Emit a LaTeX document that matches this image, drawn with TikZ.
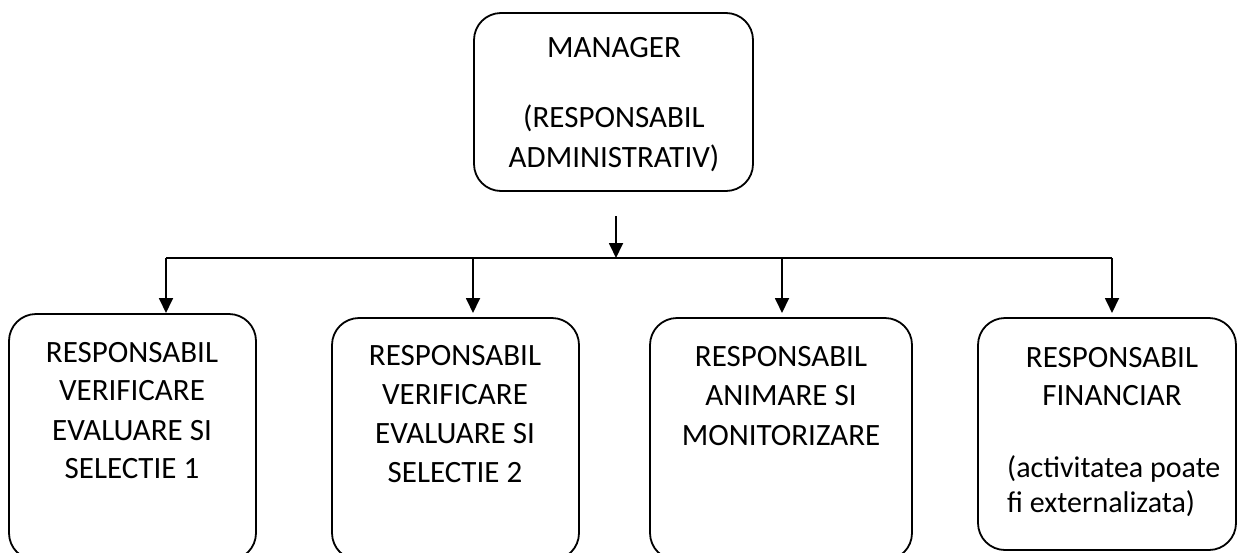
\documentclass[tikz,border=0pt]{standalone}
\usepackage{fontspec}
\setmainfont{Carlito}
\usetikzlibrary{arrows.meta}
\begin{document}
\begin{tikzpicture}[x=1pt,y=-1pt,
  box/.style={draw,line width=1.8pt,rounded corners=27pt,inner sep=0pt},
  txt/.style={font=\fontsize{31}{36}\selectfont,inner sep=0pt,anchor=base},
  ltxt/.style={font=\fontsize{30}{36}\selectfont,inner sep=0pt,anchor=base west},
  wire/.style={line width=1.8pt},
  arr/.style={line width=1.8pt,-{Triangle[length=15pt,width=14pt]}}]
\useasboundingbox (0,0) rectangle (1238,552);
\clip (0,0) rectangle (1238,552);
% boxes
\node[box,minimum width=279pt,minimum height=178pt] (mgr) at (613.5,102) {};
\node[box,minimum width=247pt,minimum height=246pt] (b1) at (132.5,437) {};
\node[box,minimum width=247pt,minimum height=242pt] (b2) at (455.5,439) {};
\node[box,minimum width=262pt,minimum height=242pt] (b3) at (781,439) {};
\node[box,minimum width=258pt,minimum height=232pt] (b4) at (1107,434) {};
% texts
\node[txt] (m1) at (614,57) {MANAGER};
\node[txt] (m2) at (614,127) {(RESPONSABIL};
\node[txt] (m3) at (614,167) {ADMINISTRATIV)};
\node[txt] (t11) at (132,362) {RESPONSABIL};
\node[txt] (t12) at (132,400) {VERIFICARE};
\node[txt] (t13) at (132,440) {EVALUARE SI};
\node[txt] (t14) at (132,478) {SELECTIE 1};
\node[txt] (t21) at (455,365) {RESPONSABIL};
\node[txt] (t22) at (455,404) {VERIFICARE};
\node[txt] (t23) at (455,443) {EVALUARE SI};
\node[txt] (t24) at (455,482) {SELECTIE 2};
\node[txt] (t31) at (781,366) {RESPONSABIL};
\node[txt] (t32) at (781,405) {ANIMARE SI};
\node[txt] (t33) at (781,445) {MONITORIZARE};
\node[txt] (t41) at (1112,367) {RESPONSABIL};
\node[txt] (t42) at (1112,405) {FINANCIAR};
\node[ltxt] (t43) at (1007,477) {(activitatea poate};
\node[ltxt] (t44) at (1007,512) {fi externalizata)};
% connectors
\coordinate (ms) at (616,216);
\coordinate (me) at (616,258);
\coordinate (j1) at (166,258);
\coordinate (j2) at (473,258);
\coordinate (j3) at (782,258);
\coordinate (j4) at (1112,258);
\coordinate (e1) at (166,313);
\coordinate (e2) at (473,313);
\coordinate (e3) at (782,313);
\coordinate (e4) at (1112,313);
\draw[arr] (ms) -- (me);
\draw[wire] (j1) -- (j4);
\draw[arr] (j1) -- (e1);
\draw[arr] (j2) -- (e2);
\draw[arr] (j3) -- (e3);
\draw[arr] (j4) -- (e4);
\end{tikzpicture}
\end{document}
